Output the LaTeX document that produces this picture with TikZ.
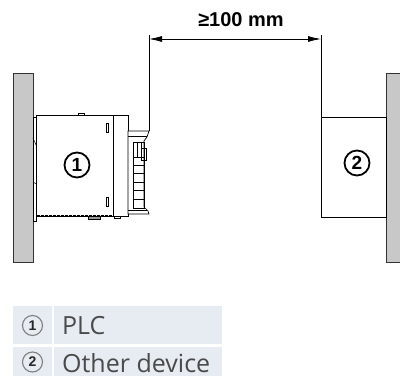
\documentclass[tikz,border=0pt]{standalone}
\usepackage{fontspec}
\setmainfont{Liberation Sans}
\newfontfamily\legfont{Open Sans}
\usetikzlibrary{arrows.meta}
\definecolor{wallgray}{HTML}{C8C8C8}
\definecolor{legbg}{HTML}{E7EBF2}
\definecolor{legtext}{HTML}{4A4A4A}
\tikzset{
  wall/.style={fill=wallgray, draw=black!80, line width=0.8pt},
  part/.style={fill=white, draw=black, line width=0.7pt},
  thin/.style={draw=black, line width=0.5pt},
  dimline/.style={draw=black, line width=0.8pt},
  callout/.style={circle, draw=black, line width=1.8pt, minimum size=25pt, inner sep=0pt, font=\fontsize{19}{19}\selectfont\bfseries},
  legcell/.style={fill=legbg, draw=none},
  legnum/.style={circle, draw=black!50, line width=1.1pt, minimum size=20pt, inner sep=0pt, text=black!85, font=\fontsize{14}{14}\selectfont\bfseries},
  legtxt/.style={anchor=west, inner sep=0pt, text=legtext, font=\legfont\fontsize{25}{25}\selectfont},
}
\begin{document}
\begin{tikzpicture}[x=1pt, y=-1pt]
\useasboundingbox (0,0) rectangle (400,385);
% walls
\draw[wall] (13,73) rectangle (33,262);
\draw[wall] (386,73) rectangle (404,262);
% PLC clips strip
\draw[thin, fill=white] (33,117) rectangle (36.5,221);
\draw[thin] (33,138) -- (36.5,146);
\draw[thin] (33,182) -- (36.5,184);
% PLC body
\draw[part] (36.5,115.5) rectangle (128,216);
\draw[black, line width=1.2pt, dash pattern=on 3pt off 1pt] (36.5,115.5) -- (113,115.5);
\draw[black, line width=1.2pt, dash pattern=on 3pt off 1pt] (36.5,216) -- (113,216);
\draw[thin] (113,115.5) -- (113,216);
\draw[thin, fill=white] (78,113) rectangle (84,115.5);
\draw[thin, fill=black!40] (88,216) rectangle (100,219);
\draw[thin, fill=white] (106,123) rectangle (108.5,132);
\draw[thin, fill=white] (106,197) rectangle (108.5,206);
\draw[thin, fill=white] (114,216) rectangle (120,218);
% connector housing
\draw[part] (128,131) -- (149,131) -- (147,137) -- (144,141) -- (144,207) -- (148,211) -- (149,214) -- (128,214) -- cycle;
\draw[thin] (128,136) -- (147,136);
\draw[thin] (128,210) -- (147,210);
\draw[thin] (133,142) rectangle (144,208);
\draw[thin] (137,142) -- (137,157);
\draw[thin] (141,142) -- (141,157);
\draw[thin] (141,148) rectangle (146,160);
\foreach \yy in {157,165,173,182,190,199} {\draw[thin] (133,\yy) -- (144,\yy);}
% device 2
\draw[part] (321,117) rectangle (386,217);
% callouts
\node[callout] (c1) at (77,165) {1};
\node[callout] (c2) at (357,163) {2};
% dimension
\coordinate (e1t) at (149,35);
\coordinate (e1b) at (149,131);
\coordinate (e2t) at (321,35);
\coordinate (e2b) at (321,117);
\draw[dimline] (e1t) -- (e1b);
\draw[dimline] (e2t) -- (e2b);
\coordinate (a1) at (149,39);
\coordinate (a2) at (321,39);
\draw[dimline, {Latex[length=13pt,width=6pt]}-{Latex[length=13pt,width=6pt]}] (a1) -- (a2);
\node[font=\fontsize{20}{20}\selectfont\bfseries, inner sep=0pt] (dimlab) at (241,19.5) {≥100 mm};
% legend
\fill[legcell] (13,306) rectangle (52,344);
\fill[legcell] (54,306) rectangle (222,344);
\fill[legcell] (13,347) rectangle (52,376);
\fill[legcell] (54,347) rectangle (222,376);
\node[legnum] (l1) at (32.5,325.5) {1};
\node[legnum] (l2) at (32.5,362) {2};
\node[legtxt] (t1) at (62,326) {PLC};
\node[legtxt] (t2) at (62,363) {Other device};
\end{tikzpicture}
\end{document}
